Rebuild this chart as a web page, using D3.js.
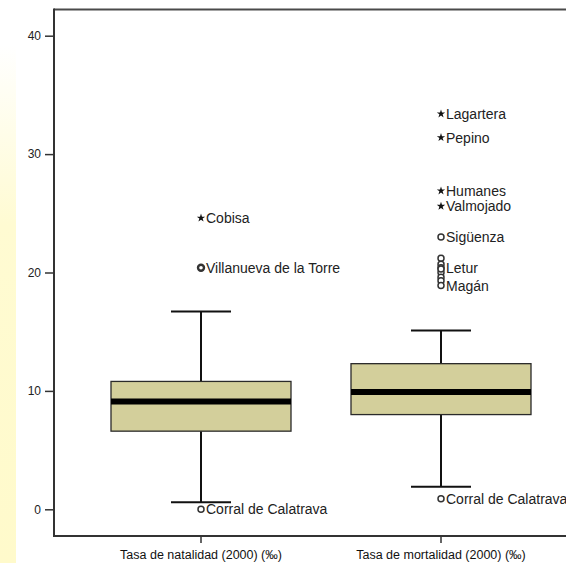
<!DOCTYPE html>
<html>
<head>
<meta charset="utf-8">
<script src="https://cdn.jsdelivr.net/npm/d3@7"></script>
<style>
  body { margin: 0; background: #fff; }
  svg { display: block; font-family: Arial, "Liberation Sans", sans-serif; }
</style>
</head>
<body>
<div id="chart"></div>
<script>
const width = 566, height = 563;

// categories and box statistics (‰)
const categories = ["Tasa de natalidad (2000) (‰)", "Tasa de mortalidad (2000) (‰)"];
const whiskerLow  = [0.6, 1.9];
const q1          = [6.6, 8.0];
const medians     = [9.1, 9.9];
const q3          = [10.8, 12.3];
const whiskerHigh = [16.7, 15.1];

// outliers: category index, value, label, kind
const outCat   = [0, 0, 0, 1, 1, 1, 1, 1, 1, 1, 1, 1, 1, 1, 1, 1, 1];
const outVal   = [24.6, 20.4, 0.0, 33.4, 31.4, 26.9, 25.6, 23.0, 21.2, 20.7, 20.4, 20.0, 19.6, 19.3, 18.9, 0.9, 20.3];
const outLabel = ["Cobisa", "Villanueva de la Torre", "Corral de Calatrava", "Lagartera", "Pepino", "Humanes",
                  "Valmojado", "Sigüenza", "", "", "Letur", "", "", "", "Magán", "Corral de Calatrava", ""];
const outKind  = ["extreme", "outlier", "outlier", "extreme", "extreme", "extreme", "extreme", "outlier",
                  "outlier", "outlier", "outlier", "outlier", "outlier", "outlier", "outlier", "outlier", "outlier"];

const yTicks = [0, 10, 20, 30, 40];

const svg = d3.select("#chart").append("svg")
  .attr("width", width)
  .attr("height", height);

// pale yellow strip on the left edge
const grad = svg.append("defs").append("linearGradient")
  .attr("id", "strip").attr("x1", 0).attr("y1", 0).attr("x2", 0).attr("y2", 1);
grad.append("stop").attr("offset", "0.08").attr("stop-color", "#ffffff");
grad.append("stop").attr("offset", "0.4").attr("stop-color", "#fffbd2");
grad.append("stop").attr("offset", "1").attr("stop-color", "#fffacb");
svg.append("rect").attr("x", 0).attr("y", 0).attr("width", 16).attr("height", height)
  .attr("fill", "url(#strip)");

const frameLeft = 54, frameTop = 9.5, frameBottom = 536, frameRight = 566;

const y = d3.scaleLinear().domain([0, 40]).range([509.3, 35.7]);
const x = d3.scaleBand().domain(categories).range([81, 561]).padding(0);
const bw = x.bandwidth();
const cx = i => x(categories[i]) + bw / 2;

// frame
svg.append("line").attr("x1", frameLeft).attr("x2", frameRight).attr("y1", frameTop).attr("y2", frameTop)
  .attr("stroke", "#4a4a4a").attr("stroke-width", 2);
svg.append("line").attr("x1", frameLeft).attr("x2", frameRight).attr("y1", frameBottom).attr("y2", frameBottom)
  .attr("stroke", "#333").attr("stroke-width", 2);

// y axis
const yAxis = svg.append("g")
  .attr("transform", `translate(${frameLeft},0)`)
  .call(d3.axisLeft(y).tickValues(yTicks).tickSize(9).tickPadding(4).tickFormat(d3.format("d")));
yAxis.select(".domain").remove();
yAxis.selectAll(".tick line").attr("stroke", "#333").attr("stroke-width", 1.5);
yAxis.selectAll("text").attr("font-size", 12).attr("fill", "#222")
  .attr("font-family", "Arial, 'Liberation Sans', sans-serif");
svg.append("line").attr("x1", frameLeft).attr("x2", frameLeft).attr("y1", frameTop - 1).attr("y2", frameBottom + 1)
  .attr("stroke", "#333").attr("stroke-width", 2);

// x axis
const xAxis = svg.append("g")
  .attr("transform", `translate(0,${frameBottom})`)
  .call(d3.axisBottom(x).tickSize(7).tickPadding(7));
xAxis.select(".domain").remove();
xAxis.selectAll(".tick line").attr("stroke", "#333").attr("stroke-width", 1.5);
xAxis.selectAll("text").attr("font-size", 12.5).attr("fill", "#111")
  .attr("font-family", "Arial, 'Liberation Sans', sans-serif");

// boxes
const boxes = svg.append("g").selectAll("g")
  .data(categories)
  .join("g");

boxes.append("line")
  .attr("x1", (d, i) => cx(i)).attr("x2", (d, i) => cx(i))
  .attr("y1", (d, i) => y(whiskerHigh[i])).attr("y2", (d, i) => y(q3[i]))
  .attr("stroke", "#111").attr("stroke-width", 2);
boxes.append("line")
  .attr("x1", (d, i) => cx(i)).attr("x2", (d, i) => cx(i))
  .attr("y1", (d, i) => y(q1[i])).attr("y2", (d, i) => y(whiskerLow[i]))
  .attr("stroke", "#111").attr("stroke-width", 2);
[whiskerHigh, whiskerLow].forEach(arr => {
  boxes.append("line")
    .attr("x1", (d, i) => cx(i) - bw / 8).attr("x2", (d, i) => cx(i) + bw / 8)
    .attr("y1", (d, i) => y(arr[i])).attr("y2", (d, i) => y(arr[i]))
    .attr("stroke", "#111").attr("stroke-width", 2);
});
boxes.append("rect")
  .attr("x", (d, i) => cx(i) - bw * 0.375)
  .attr("width", bw * 0.75)
  .attr("y", (d, i) => y(q3[i]))
  .attr("height", (d, i) => y(q1[i]) - y(q3[i]))
  .attr("fill", "#d3cf9b")
  .attr("stroke", "#2a2a2a").attr("stroke-width", 1.3);
boxes.append("line")
  .attr("x1", (d, i) => cx(i) - bw * 0.375).attr("x2", (d, i) => cx(i) + bw * 0.375)
  .attr("y1", (d, i) => y(medians[i])).attr("y2", (d, i) => y(medians[i]))
  .attr("stroke", "#000").attr("stroke-width", 6);

// outliers
const outliers = outVal.map((v, i) => ({ cat: outCat[i], v, label: outLabel[i], kind: outKind[i] }));
const og = svg.append("g");
og.selectAll("circle")
  .data(outliers.filter(d => d.kind === "outlier"))
  .join("circle")
  .attr("cx", d => cx(d.cat)).attr("cy", d => y(d.v))
  .attr("r", 3)
  .attr("fill", "#fff")
  .attr("stroke", "#333")
  .attr("stroke-width", d => d.label === "Villanueva de la Torre" ? 2.4 : 1.5);
og.selectAll("path")
  .data(outliers.filter(d => d.kind === "extreme"))
  .join("path")
  .attr("transform", d => `translate(${cx(d.cat)},${y(d.v)})`)
  .attr("d", d3.symbol(d3.symbolStar).size(22))
  .attr("fill", "#111");
og.selectAll("text")
  .data(outliers.filter(d => d.label))
  .join("text")
  .attr("x", d => cx(d.cat) + 5)
  .attr("y", d => y(d.v))
  .attr("dy", "0.36em")
  .attr("font-size", 14)
  .attr("fill", "#222")
  .text(d => d.label);
</script>
</body>
</html>
